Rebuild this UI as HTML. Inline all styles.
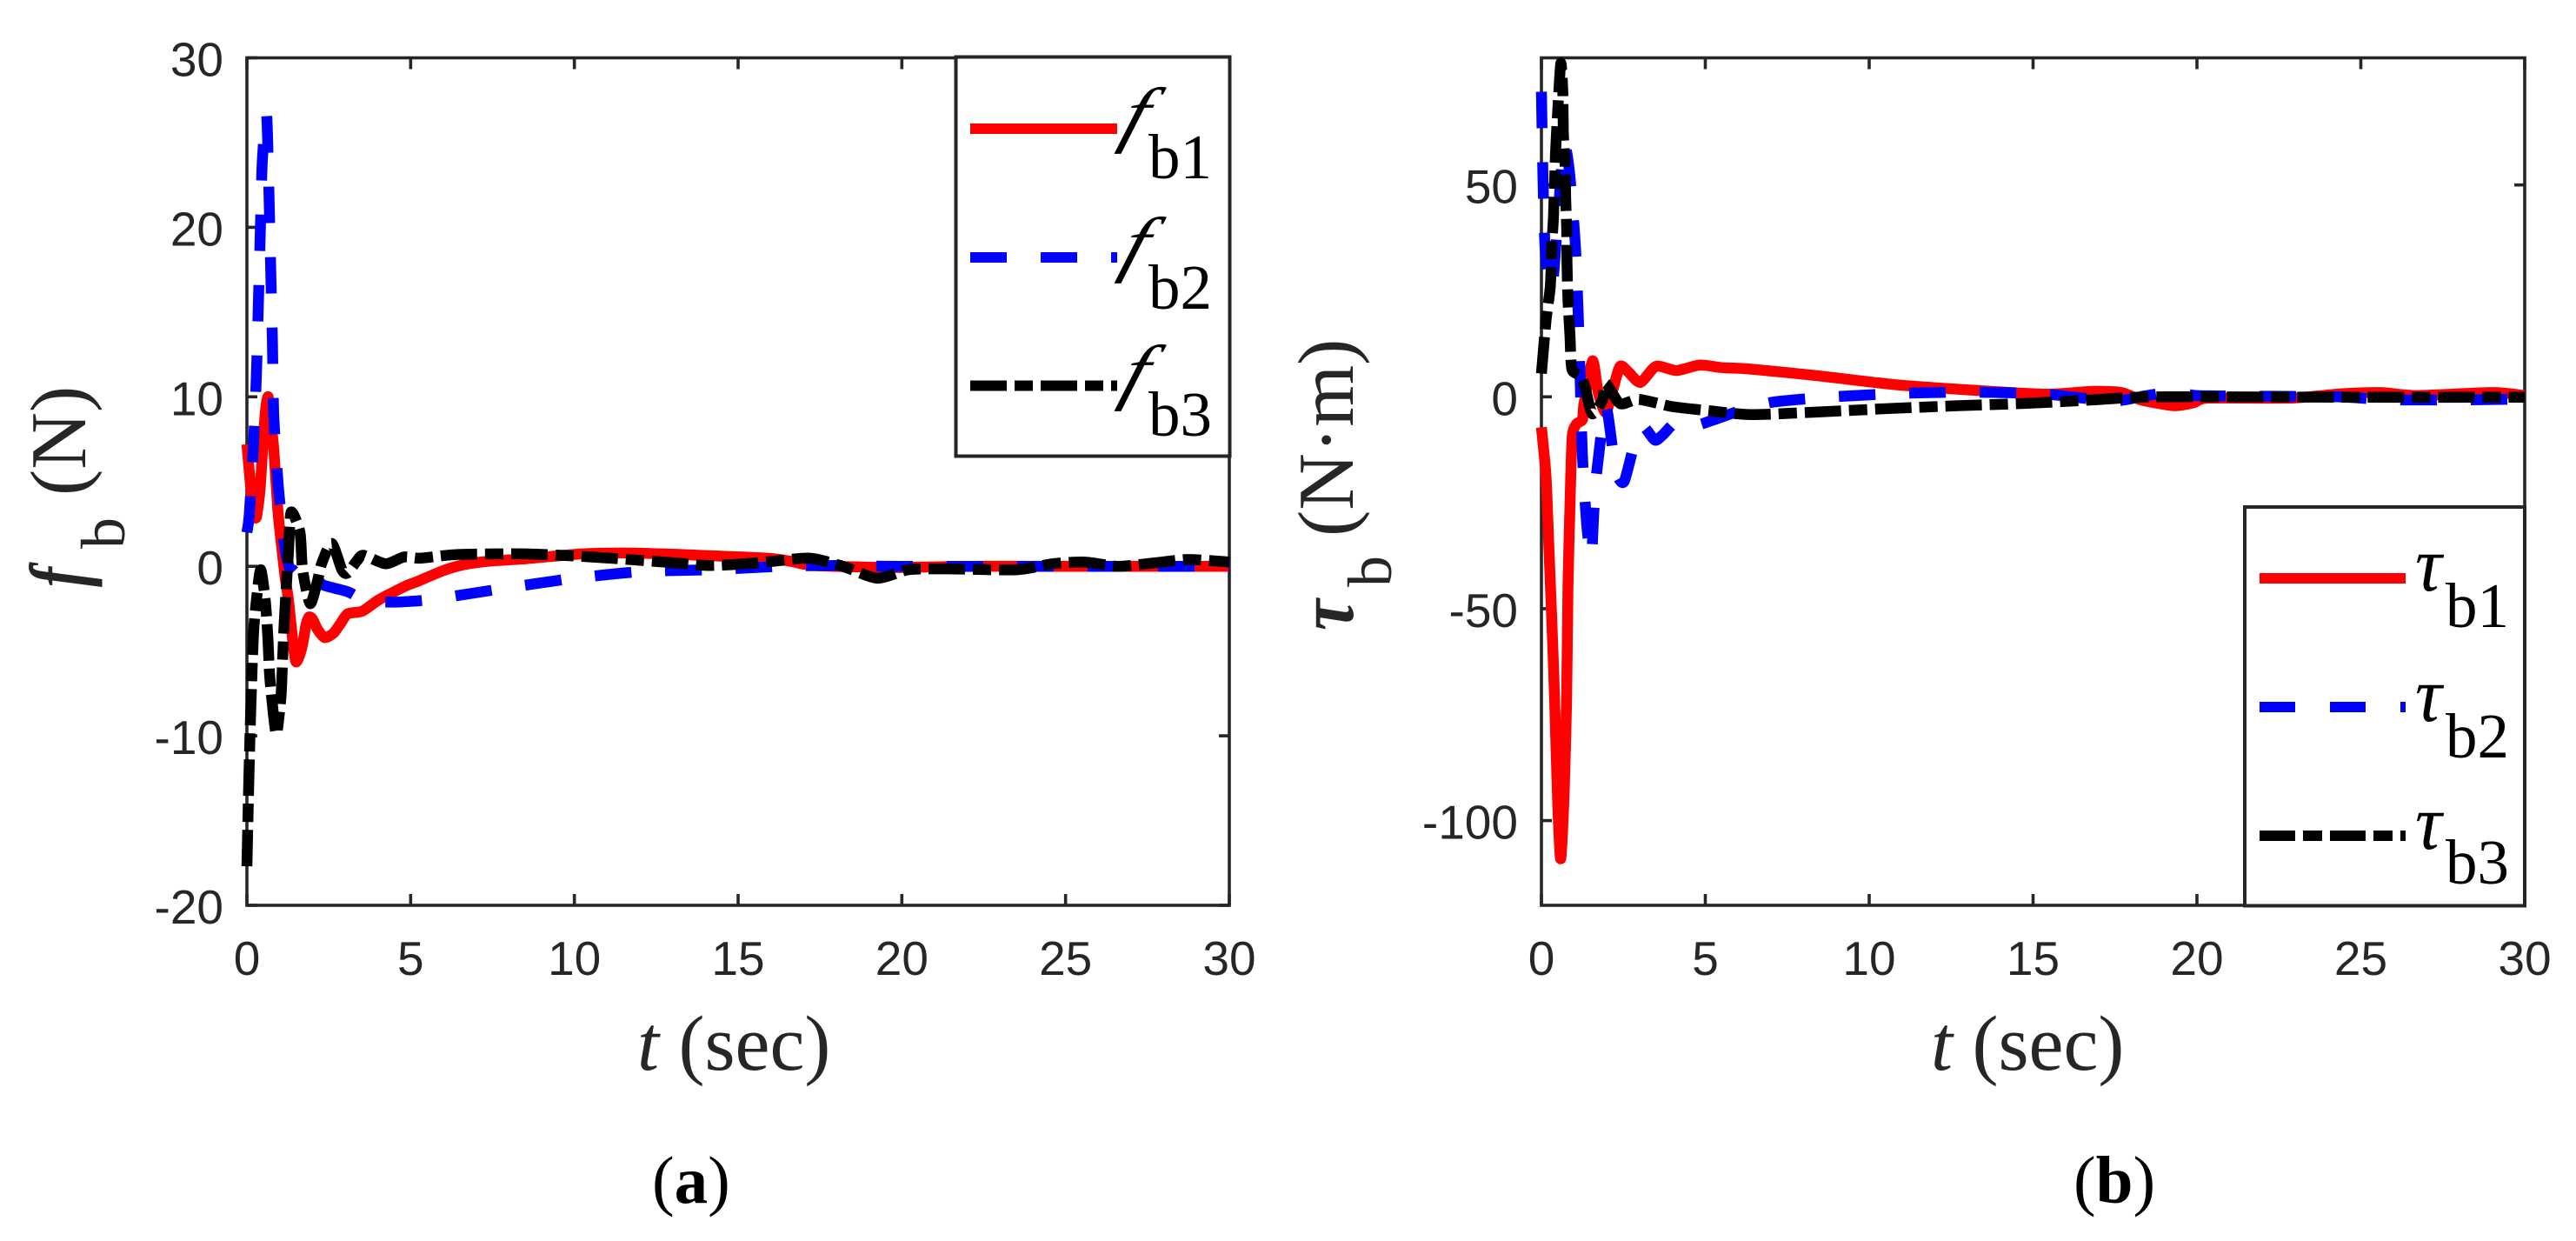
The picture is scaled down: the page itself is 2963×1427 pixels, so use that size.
<!DOCTYPE html>
<html lang="en">
<head>
<meta charset="utf-8">
<title>Body force and torque responses</title>
<style>
html,body{margin:0;padding:0;background:#fff;width:2963px;height:1427px;overflow:hidden}
svg{display:block}
.tick-text{font-family:"Liberation Sans",Arial,sans-serif;font-size:55px;fill:#262626}
.serif{font-family:"Liberation Serif","Times New Roman",serif;fill:#000}
.axis-label{font-family:"Liberation Serif","Times New Roman",serif;font-size:90px;fill:#262626}
</style>
</head>
<body>
<svg id="figure" xmlns="http://www.w3.org/2000/svg" width="2963" height="1427" viewBox="0 0 2963 1427">
  <rect x="0" y="0" width="2963" height="1427" fill="#fff"/>
  <g id="panel-a"></g>
  <g id="panel-b"></g>

  <g>
    <rect x="1099.5" y="65.5" width="315" height="459" fill="#fff" stroke="#262626" stroke-width="4"/>
    <line x1="1116" x2="1285" y1="148" y2="148" stroke="#f00" stroke-width="12"/>
    <line x1="1116" x2="1285" y1="296" y2="296" stroke="#00f" stroke-width="12" stroke-dasharray="42 39"/>
    <line x1="1116" x2="1285" y1="443.500" y2="443.500" stroke="#000" stroke-width="12" stroke-dasharray="42 9 21 9"/>
    <g class="serif">
      <text transform="translate(1286,159) scale(1.15,1) skewX(-15)" font-size="84" font-style="italic">f</text><text x="1321" y="205" font-size="73">b1</text>
    </g>
    <g class="serif">
      <text transform="translate(1286,308) scale(1.15,1) skewX(-15)" font-size="84" font-style="italic">f</text><text x="1321" y="355" font-size="73">b2</text>
    </g>
    <g class="serif">
      <text transform="translate(1286,455) scale(1.15,1) skewX(-15)" font-size="84" font-style="italic">f</text><text x="1321" y="501" font-size="73">b3</text>
    </g>
  </g>

  <g>
    <rect x="2582" y="583" width="322" height="458.500" fill="#fff" stroke="#262626" stroke-width="4"/>
    <line x1="2599" x2="2767" y1="665" y2="665" stroke="#f00" stroke-width="12"/>
    <line x1="2599" x2="2767" y1="813" y2="813" stroke="#00f" stroke-width="12" stroke-dasharray="41 40"/>
    <line x1="2599" x2="2767" y1="961" y2="961" stroke="#000" stroke-width="12" stroke-dasharray="41 9 22 9"/>
    <g class="serif">
      <text transform="translate(2778,679) scale(0.95,1)" font-size="90" font-style="italic">τ</text><text x="2813" y="721" font-size="73">b1</text>
    </g>
    <g class="serif">
      <text transform="translate(2778,829) scale(0.95,1)" font-size="90" font-style="italic">τ</text><text x="2813" y="871" font-size="73">b2</text>
    </g>
    <g class="serif">
      <text transform="translate(2778,976) scale(0.95,1)" font-size="90" font-style="italic">τ</text><text x="2813" y="1016" font-size="73">b3</text>
    </g>
  </g>

  <text class="axis-label" x="733" y="1230"><tspan font-style="italic">t</tspan> (sec)</text>
  <text class="axis-label" x="2221" y="1230"><tspan font-style="italic">t</tspan> (sec)</text>

  <g class="axis-label">
    <text transform="translate(98,675) rotate(-90) scale(0.75,1)" font-style="italic" font-weight="bold" font-size="92" fill="#262626">f</text>
    <text transform="translate(143,631) rotate(-90)" font-size="72" fill="#262626">b</text>
    <text transform="translate(98,570) rotate(-90)" font-size="91" fill="#262626">(N)</text>
  </g>
  <g class="axis-label">
    <text transform="translate(1556,725) rotate(-90) scale(0.88,1)" font-style="italic" font-weight="bold" font-size="92" fill="#262626">τ</text>
    <text transform="translate(1600,675) rotate(-90)" font-size="72" fill="#262626">b</text>
    <text transform="translate(1556,617) rotate(-90)" font-size="91" fill="#262626">(N·m)</text>
  </g>

  <text class="serif" x="750" y="1383" font-size="77">(<tspan font-weight="bold">a</tspan>)</text>
  <text class="serif" x="2385" y="1383" font-size="77">(<tspan font-weight="bold">b</tspan>)</text>
</svg>

<script>
// Shared axis ticks
const xTickValues = [0, 5, 10, 15, 20, 25, 30];
const yTicksA = [-20, -10, 0, 10, 20, 30];
const yTicksB = [-100, -50, 0, 50];

// Panel (a): f_b (N)
const fb1Time = [0,0.1,0.2,0.29,0.4,0.5,0.58,0.65,0.72,0.82,0.95,1.07,1.17,1.27,1.4,1.49,1.58,1.7,1.8,1.89,2.0,2.15,2.37,2.64,2.85,3.08,3.52,4.05,4.86,5.2,6,6.63,7.36,8.4,10.2,11.8,13.7,15.9,16.6,17.3,19.6,22,25,30];
const fb1Values = [7.2,5,3.2,2.9,4.5,7.5,9.4,10,8.8,6.9,3.2,1,-0.7,-2,-4.4,-5.6,-5.4,-4.6,-3.5,-3,-3.1,-3.7,-4.2,-3.95,-3.4,-2.8,-2.65,-1.95,-1.15,-0.9,-0.25,0.1,0.3,0.43,0.73,0.78,0.66,0.48,0.3,0.05,-0.07,0,0,0];
const fb2Time = [0,0.07,0.2,0.29,0.35,0.41,0.47,0.6,0.68,0.73,0.78,0.82,0.96,1.15,1.3,1.4,1.6,1.93,2.1,2.33,3.08,3.6,4,4.7,5.66,7.76,9.93,12.06,14.2,16.3,18,20,30];
const fb2Values = [2,3,7.1,11.3,15.5,19.8,23.9,26.7,21.5,17.3,13.2,8.9,4.7,1.2,-0.1,-0.2,-0.5,-0.2,-0.6,-1.1,-1.5,-2.04,-2.1,-2.1,-1.95,-1.33,-0.72,-0.31,-0.2,0,0.05,0,0];
const fb3Time = [0,0.06,0.12,0.2,0.29,0.42,0.56,0.64,0.69,0.77,0.9,1.04,1.09,1.14,1.2,1.27,1.35,1.62,1.7,1.93,2.15,2.28,2.59,2.9,3.07,3.35,3.56,4.23,4.8,5.3,6.45,8.6,10.7,12.9,14.1,15.2,16.1,17.2,18.2,19.25,20.2,21.4,23.5,24.6,25.6,26.6,27.7,28.7,29.7,30];
const fb3Values = [-17.7,-12.5,-8.3,-4,-2,-0.2,-2,-4.2,-6.3,-8,-9.9,-7.7,-5.5,-3.3,-1.3,0.9,3.2,2,-0.2,-2.2,-0.9,0.15,1.35,-0.2,-0.4,0.3,0.65,0.15,0.55,0.48,0.7,0.73,0.53,0.23,0.05,0.15,0.3,0.48,0,-0.7,-0.2,-0.15,-0.2,0.15,0.25,0,0.2,0.4,0.3,0.25];

// Panel (b): tau_b (N·m)
const tb1Time = [0,0.14,0.23,0.32,0.4,0.5,0.59,0.7,0.77,0.81,0.88,0.94,1.07,1.25,1.3,1.56,1.73,1.96,2.18,2.4,2.66,3.02,3.5,4.12,4.83,5.5,6.3,8.4,10.75,13,15.4,16.8,17.7,18.3,19.3,19.9,20.35,22.85,24.4,25.6,26.7,29,30];
const tb1Values = [-7.2,-18.8,-36,-53.4,-70.7,-96.6,-109,-92,-70.7,-44.8,-23,-9.4,-6.4,-5.4,-1.6,8.5,1.1,-3.7,1.7,7.2,5.8,3.4,7.2,6.2,7.5,6.9,6.6,5,2.9,1.65,0.63,1.3,1,-0.74,-2.1,-1.4,-0.3,-0.3,0.7,1,0.3,1,0.3];
const tb2Time = [0,0.05,0.12,0.32,0.5,0.68,0.85,1.03,1.12,1.18,1.25,1.38,1.52,1.6,1.69,1.96,2.18,2.31,2.53,2.89,3.11,3.46,3.7,4.17,4.7,5.23,6.2,7.1,8.9,11.1,13.2,15.4,17.4,18.4,19.4,20,22.8,24.3,26,28.3,30];
const tb2Values = [72,50.8,34.4,25.5,42,59.6,53.4,36.5,20,4.5,-13.7,-30,-38,-27,-17.6,-2.4,-12.8,-18.4,-19.9,-9.4,-7,-10.2,-9,-5.5,-6.7,-5.5,-2.9,-1.2,0,0.85,1.1,0.63,-1,0.2,1.3,0.3,0.1,0,-0.7,-0.7,-0.5];
const tb3Time = [0,0.14,0.27,0.32,0.37,0.43,0.5,0.59,0.65,0.67,0.72,0.74,0.77,0.78,0.81,0.87,0.93,1.2,1.33,1.55,1.87,1.96,2.4,2.97,3.99,5.14,6.4,8.37,10.5,12.7,14.74,16.8,17.9,19.3,25,30];
const tb3Values = [5.5,18,26,36,43,57.5,67.8,78.7,72.5,62,55.5,46.7,40,31.7,22.9,14.6,6.5,5,2.4,-4,-0.6,3.2,-1.6,-0.6,-2.3,-3.3,-4.2,-3.6,-2.8,-2.1,-1.56,-0.74,-0.2,0,-0.1,-0.1];

const SVGNS = 'http://www.w3.org/2000/svg';
const AXIS_COLOR = '#262626';

function makeScale(d0, d1, r0, r1) {
  return function (v) { return r0 + (v - d0) * (r1 - r0) / (d1 - d0); };
}

// Smooth curve through the sampled points (Catmull-Rom to cubic Bezier)
function curvePath(times, values, sx, sy) {
  const pts = times.map(function (t, i) { return [sx(t), sy(values[i])]; });
  let d = 'M' + pts[0][0].toFixed(2) + ' ' + pts[0][1].toFixed(2);
  const k = 0.12;
  for (let i = 0; i < pts.length - 1; i++) {
    const p0 = pts[Math.max(i - 1, 0)], p1 = pts[i], p2 = pts[i + 1], p3 = pts[Math.min(i + 2, pts.length - 1)];
    d += 'C' + (p1[0] + (p2[0] - p0[0]) * k).toFixed(2) + ' ' + (p1[1] + (p2[1] - p0[1]) * k).toFixed(2) + ' ' +
         (p2[0] - (p3[0] - p1[0]) * k).toFixed(2) + ' ' + (p2[1] - (p3[1] - p1[1]) * k).toFixed(2) + ' ' +
         p2[0].toFixed(2) + ' ' + p2[1].toFixed(2);
  }
  return d;
}

function drawAxes(group, frame, sx, sy, yTicks) {
  const box = document.createElementNS(SVGNS, 'rect');
  
  
  box.setAttribute('x', frame.left);
  box.setAttribute('y', frame.top);
  box.setAttribute('width', frame.right - frame.left);
  box.setAttribute('height', frame.bottom - frame.top);
  box.setAttribute('fill', 'none');
  box.setAttribute('stroke', AXIS_COLOR);
  box.setAttribute('stroke-width', '3.6');
  group.appendChild(box);

  xTickValues.forEach(function (v) {
    const x = sx(v);
    [[frame.bottom, frame.bottom - 13], [frame.top, frame.top + 13]].forEach(function (ends) {
      const tick = document.createElementNS(SVGNS, 'line');
      
      
      tick.setAttribute('x1', x);
      tick.setAttribute('x2', x);
      tick.setAttribute('y1', ends[0]);
      tick.setAttribute('y2', ends[1]);
      tick.setAttribute('stroke', AXIS_COLOR);
      tick.setAttribute('stroke-width', '3.6');
      group.appendChild(tick);
    });
    const label = document.createElementNS(SVGNS, 'text');
    
    
    label.setAttribute('class', 'tick-text');
    label.setAttribute('x', x);
    label.setAttribute('y', frame.bottom + 80);
    label.setAttribute('text-anchor', 'middle');
    label.textContent = String(v);
    group.appendChild(label);
  });

  yTicks.forEach(function (v) {
    const y = sy(v);
    [[frame.left, frame.left + 12], [frame.right, frame.right - 12]].forEach(function (ends) {
      const tick = document.createElementNS(SVGNS, 'line');
      
      
      tick.setAttribute('x1', ends[0]);
      tick.setAttribute('x2', ends[1]);
      tick.setAttribute('y1', y);
      tick.setAttribute('y2', y);
      tick.setAttribute('stroke', AXIS_COLOR);
      tick.setAttribute('stroke-width', '3.6');
      group.appendChild(tick);
    });
    const label = document.createElementNS(SVGNS, 'text');
    
    
    label.setAttribute('class', 'tick-text');
    label.setAttribute('x', frame.left - 27);
    label.setAttribute('y', y + 21);
    label.setAttribute('text-anchor', 'end');
    label.textContent = String(v);
    group.appendChild(label);
  });
}

function drawSeries(group, name, times, values, sx, sy, color, dash) {
  const path = document.createElementNS(SVGNS, 'path');
  
  
  path.setAttribute('d', curvePath(times, values, sx, sy));
  path.setAttribute('fill', 'none');
  path.setAttribute('stroke', color);
  path.setAttribute('stroke-width', '12.5');
  path.setAttribute('stroke-linejoin', 'round');
  if (dash) path.setAttribute('stroke-dasharray', dash);
  group.appendChild(path);
}

const DASH_BLUE = '42 39';
const DASH_BLACK = '42 9 21 9';

const frameA = { left: 284, right: 1414, top: 66.5, bottom: 1041 };
const sxA = makeScale(0, 30, frameA.left, frameA.right);
const syA = makeScale(-20, 30, frameA.bottom, frameA.top);
const groupA = document.getElementById('panel-a');
drawAxes(groupA, frameA, sxA, syA, yTicksA);
drawSeries(groupA, 'series-fb1', fb1Time, fb1Values, sxA, syA, '#f00', null);
drawSeries(groupA, 'series-fb2', fb2Time, fb2Values, sxA, syA, '#00f', DASH_BLUE);
drawSeries(groupA, 'series-fb3', fb3Time, fb3Values, sxA, syA, '#000', DASH_BLACK);

const frameB = { left: 1773, right: 2904, top: 66.5, bottom: 1041 };
const sxB = makeScale(0, 30, frameB.left, frameB.right);
const syB = makeScale(-120, 80, frameB.bottom, frameB.top);
const groupB = document.getElementById('panel-b');
drawAxes(groupB, frameB, sxB, syB, yTicksB);
drawSeries(groupB, 'series-tb1', tb1Time, tb1Values, sxB, syB, '#f00', null);
drawSeries(groupB, 'series-tb2', tb2Time, tb2Values, sxB, syB, '#00f', DASH_BLUE);
drawSeries(groupB, 'series-tb3', tb3Time, tb3Values, sxB, syB, '#000', DASH_BLACK);
</script>
</body>
</html>
